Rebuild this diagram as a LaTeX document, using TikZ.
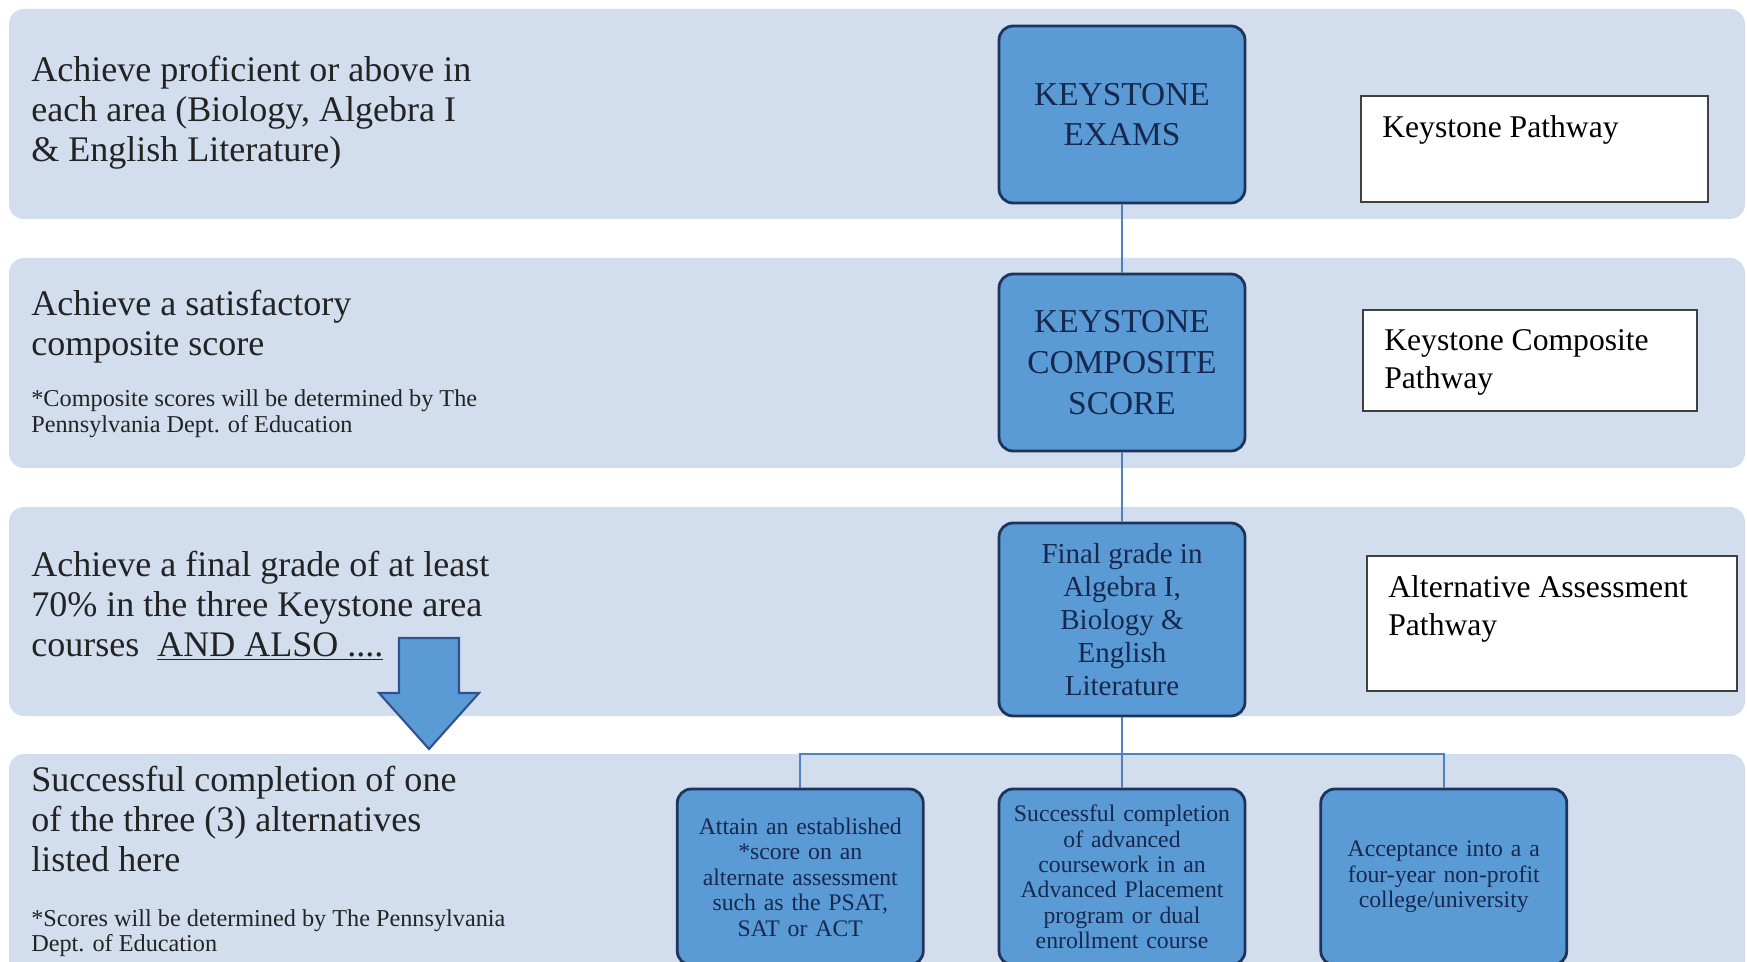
\documentclass[tikz,border=0pt]{standalone}
\usepackage{fontspec}
\setmainfont{Liberation Serif}
\usetikzlibrary{positioning}

\definecolor{bandfill}{RGB}{210,221,238}
\definecolor{stagefill}{RGB}{91,155,213}
\definecolor{stageline}{RGB}{30,52,92}
\definecolor{stagetext}{RGB}{22,40,78}
\definecolor{pathline}{RGB}{64,64,64}
\definecolor{reqtext}{RGB}{35,35,35}
\definecolor{linkcol}{RGB}{79,129,189}
\definecolor{arrowline}{RGB}{47,82,143}

\begin{document}
\begin{tikzpicture}[x=0.02cm, y=-0.02cm,
  band/.style={fill=bandfill, rounded corners=0.3cm},
  stage/.style={rectangle, draw=stageline, fill=stagefill, line width=1.6pt,
                rounded corners=0.28cm, minimum width=4.92cm, align=center,
                text=stagetext, inner sep=2pt},
  option/.style={stage, minimum height=3.52cm, text width=4.5cm,
                 font=\fontsize{13.5}{14.5}\selectfont},
  pathbox/.style={rectangle, draw=pathline, fill=white, line width=1.1pt,
                  anchor=north west},
  pathtxt/.style={anchor=north west, inner xsep=0.44cm, inner ysep=0.4cm,
                  align=left, text=black, font=\fontsize{18}{22}\selectfont},
  req/.style={anchor=north west, inner sep=0pt, align=left, text=reqtext,
              font=\fontsize{20.5}{22.7}\selectfont},
  note/.style={inner sep=0pt, align=left, text=reqtext,
               font=\fontsize{13.8}{14.5}\selectfont},
  link/.style={draw=linkcol, line width=0.9pt}
]
  \useasboundingbox (0,0) rectangle (1747,962);
  \clip (0,0) rectangle (1747,962);

  % background bands
  \fill[band] (9,9)   rectangle (1745,219);
  \fill[band] (9,258) rectangle (1745,468);
  \fill[band] (9,507) rectangle (1745,716);
  \fill[band] (9,754) rectangle (1745,1000);

  % requirements on the left
  \node[req] (req1) at (31,56) {Achieve proficient or above in\\each area (Biology, Algebra I\\\& English Literature)};
  \node[req] (req2) at (31,290) {Achieve a satisfactory\\composite score};
  \node[note, below right=0.52cm and 0cm of req2.south west] (note2) {*Composite scores will be determined by The\\Pennsylvania Dept. of Education};
  \node[req] (req3) at (31,551) {Achieve a final grade of at least\\70\% in the three Keystone area\\courses~~\underline{AND ALSO ....}};
  \node[req] (req4) at (31,766) {Successful completion of one\\of the three (3) alternatives\\listed here};
  \node[note, below right=0.74cm and 0cm of req4.south west] (note4) {*Scores will be determined by The Pennsylvania\\Dept. of Education};

  % block arrow
  \filldraw[fill=stagefill, draw=arrowline, line width=1.2pt]
    (399,638) -- (459,638) -- (459,693) -- (479,693) -- (429,749)
    -- (379,693) -- (399,693) -- cycle;

  % stages
  \node[stage, minimum height=3.54cm, font=\fontsize{19}{23.2}\selectfont] (exams) at (1122,114.5) {KEYSTONE\\EXAMS};
  \node[stage, minimum height=3.54cm, font=\fontsize{19}{23.2}\selectfont] (comp) at (1122,362.5) {KEYSTONE\\COMPOSITE\\SCORE};
  \node[stage, minimum height=3.86cm, font=\fontsize{16.5}{18.7}\selectfont] (final) at (1122,619.5) {Final grade in\\Algebra I,\\Biology \&\\English\\Literature};

  % alternatives
  \node[option] (optB) at (1122,877) {Successful completion\\of advanced\\coursework in an\\Advanced Placement\\program or  dual\\enrollment course};
  \node[option, left=1.46cm of optB] (optA) {Attain an established\\{}*score on an\\alternate assessment\\such as the PSAT,\\SAT or ACT};
  \node[option, right=1.46cm of optB] (optC) {Acceptance into a a\\four-year non-profit\\college/university};

  % pathways
  \node[pathbox, minimum width=6.94cm, minimum height=2.12cm] (kpbox) at (1360,95) {};
  \node[pathtxt] (kptxt) at (kpbox.north west) {Keystone Pathway};
  \node[pathbox, minimum width=6.68cm, minimum height=2.02cm] (cpbox) at (1362,309) {};
  \node[pathtxt] (cptxt) at (cpbox.north west) {Keystone Composite\\Pathway};
  \node[pathbox, minimum width=7.4cm, minimum height=2.7cm] (apbox) at (1366,555) {};
  \node[pathtxt] (aptxt) at (apbox.north west) {Alternative Assessment\\Pathway};

  % connectors
  \coordinate (bus) at (1122,754);
  \draw[link] (exams) -- (comp);
  \draw[link] (comp) -- (final);
  \draw[link] (final) -- (optB);
  \draw[link] (optA.north) |- (bus) -| (optC.north);
\end{tikzpicture}
\end{document}
